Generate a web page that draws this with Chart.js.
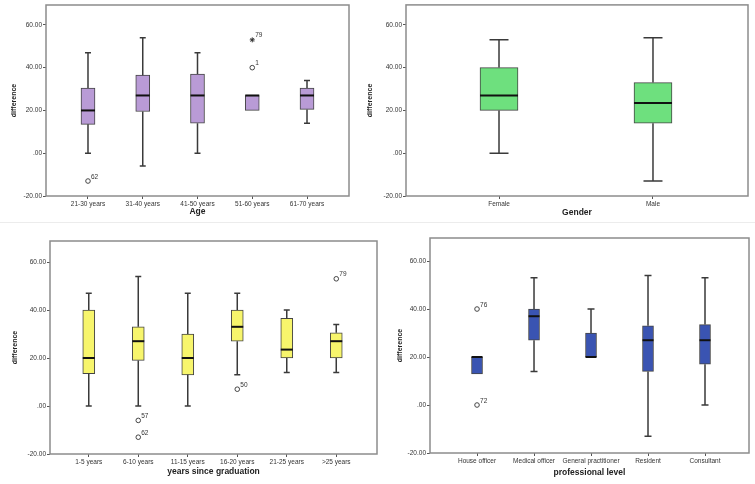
<!DOCTYPE html>
<html>
<head>
<meta charset="utf-8">
<script src="https://cdn.jsdelivr.net/npm/chart.js@4.4.1/dist/chart.umd.min.js"></script>
<style>
  body { margin: 0; background: #fff; width: 755px; height: 484px; position: relative; overflow: hidden; }
  .panel { position: absolute; }
  .sep { position: absolute; left: 0; top: 222px; width: 755px; height: 1px; background: #ececec; }
</style>
</head>
<body>
<div class="sep"></div>
<div class="panel" style="left:0;top:0;width:360px;height:224px"><canvas id="ageChart"></canvas></div>
<div class="panel" style="left:360px;top:0;width:395px;height:224px"><canvas id="genderChart"></canvas></div>
<div class="panel" style="left:0;top:226px;width:382px;height:258px"><canvas id="gradChart"></canvas></div>
<div class="panel" style="left:382px;top:226px;width:373px;height:258px"><canvas id="levelChart"></canvas></div>
<script>
const FONT = "'Liberation Sans', Arial, sans-serif";
const Y_TICKS = [-20, 0, 20, 40, 60];

// Age
const AGE_LABELS = ["21-30 years", "31-40 years", "41-50 years", "51-60 years", "61-70 years"];
const AGE_MIN = [0, -6, 0, null, 14];
const AGE_Q1 = [13.5, 19.5, 14, 20, 20.5];
const AGE_MEDIAN = [20, 27, 27, 27, 27];
const AGE_Q3 = [30.5, 36.5, 37, 27, 30.5];
const AGE_MAX = [47, 54, 47, null, 34];
const AGE_OUTLIERS = [{ x: 1, y: -13, id: "62" }, { x: 4, y: 40, id: "1" }];
const AGE_EXTREMES = [{ x: 4, y: 53, id: "79" }];

// Gender
const GENDER_LABELS = ["Female", "Male"];
const GENDER_MIN = [0, -13];
const GENDER_Q1 = [20, 14];
const GENDER_MEDIAN = [27, 23.5];
const GENDER_Q3 = [40, 33];
const GENDER_MAX = [53, 54];

// years since graduation
const GRAD_LABELS = ["1-5 years", "6-10 years", "11-15 years", "16-20 years", "21-25 years", ">25 years"];
const GRAD_MIN = [0, 0, 0, 13, 14, 14];
const GRAD_Q1 = [13.5, 19, 13, 27, 20, 20];
const GRAD_MEDIAN = [20, 27, 20, 33, 23.5, 27];
const GRAD_Q3 = [40, 33, 30, 40, 36.5, 30.5];
const GRAD_MAX = [47, 54, 47, 47, 40, 34];
const GRAD_OUTLIERS = [{ x: 2, y: -6, id: "57" }, { x: 2, y: -13, id: "62" }, { x: 4, y: 7, id: "50" }, { x: 6, y: 53, id: "79" }];

// professional level
const LEVEL_LABELS = ["House officer", "Medical officer", "General practitioner", "Resident", "Consultant"];
const LEVEL_MIN = [null, 14, null, -13, 0];
const LEVEL_Q1 = [13, 27, 20, 14, 17];
const LEVEL_MEDIAN = [20, 37, 20, 27, 27];
const LEVEL_Q3 = [20, 40, 30, 33, 33.5];
const LEVEL_MAX = [null, 53, 40, 54, 53];
const LEVEL_OUTLIERS = [{ x: 1, y: 40, id: "76" }, { x: 1, y: 0, id: "72" }];

function fmtTick(v) {
  return v === 0 ? ".00" : v.toFixed(2);
}

const boxPlugin = {
  id: "boxParts",
  afterDatasetsDraw(chart, args, opts) {
    const { ctx, chartArea } = chart;
    const xs = chart.scales.x;
    const ys = chart.scales.y;
    ctx.save();
    opts.median.forEach((m, i) => {
      const px = xs.getPixelForValue(i + 1);
      const half = opts.capWidth / 2;
      ctx.strokeStyle = "#3a3a3a";
      ctx.lineWidth = 1.5;
      const whisker = (from, to) => {
        if (to == null) return;
        const y0 = ys.getPixelForValue(from);
        const y1 = ys.getPixelForValue(to);
        ctx.beginPath();
        ctx.moveTo(px, y0);
        ctx.lineTo(px, y1);
        ctx.moveTo(px - half, y1);
        ctx.lineTo(px + half, y1);
        ctx.stroke();
      };
      whisker(opts.q3[i], opts.max[i]);
      whisker(opts.q1[i], opts.min[i]);
      const my = ys.getPixelForValue(m);
      ctx.strokeStyle = "#111";
      ctx.lineWidth = 2;
      ctx.beginPath();
      ctx.moveTo(px - opts.boxWidth / 2, my);
      ctx.lineTo(px + opts.boxWidth / 2, my);
      ctx.stroke();
    });
    // outlier case numbers
    ctx.fillStyle = "#333";
    ctx.font = "6.5px " + FONT;
    ctx.textBaseline = "bottom";
    chart.data.datasets.forEach((ds, di) => {
      if (ds.type !== "scatter") return;
      chart.getDatasetMeta(di).data.forEach((pt, j) => {
        ctx.fillText(ds.data[j].id, pt.x + 3, pt.y - 1);
      });
    });
    ctx.strokeStyle = "#8c8c8c";
    ctx.lineWidth = 1.5;
    ctx.strokeRect(chartArea.left, chartArea.top, chartArea.width, chartArea.height);
    ctx.restore();
  },
};

function makeBoxChart(id, s) {
  const datasets = [
    {
      type: "bar",
      data: s.labels.map((_, i) => ({ x: i + 1, y: [s.q1[i], s.q3[i]] })),
      backgroundColor: s.color,
      borderColor: "#444",
      borderWidth: 1,
      borderSkipped: false,
      barThickness: s.boxWidth,
    },
    {
      type: "scatter",
      data: s.outliers || [],
      pointStyle: "circle",
      radius: 2.3,
      borderWidth: 1,
      borderColor: "#444",
      backgroundColor: "rgba(255,255,255,0)",
    },
    {
      type: "scatter",
      data: s.extremes || [],
      pointStyle: "star",
      radius: 2.5,
      borderWidth: 1,
      borderColor: "#333",
    },
  ];
  new Chart(document.getElementById(id), {
    type: "bar",
    data: { datasets },
    plugins: [boxPlugin],
    options: {
      responsive: true,
      maintainAspectRatio: false,
      animation: false,
      layout: { padding: { top: s.padTop, right: s.padRight, left: 0, bottom: 0 } },
      plugins: {
        legend: { display: false },
        tooltip: { enabled: false },
        boxParts: {
          min: s.min, q1: s.q1, median: s.median, q3: s.q3, max: s.max,
          boxWidth: s.boxWidth, capWidth: s.capWidth,
        },
      },
      scales: {
        x: {
          type: "linear",
          offset: false,
          min: s.xMin,
          max: s.xMax,
          afterFit: (sc) => { sc.height = s.xHeight; },
          afterBuildTicks: (sc) => { sc.ticks = s.labels.map((_, i) => ({ value: i + 1 })); },
          grid: { offset: false, drawOnChartArea: false, tickLength: 3, color: "#555" },
          border: { display: false },
          ticks: {
            autoSkip: false, maxRotation: 0, padding: 1, color: "#333",
            font: { size: 6.5, family: FONT },
            callback: (v) => s.labels[v - 1],
          },
          title: {
            display: true, text: s.xTitle, color: "#222",
            font: { size: 8.5, weight: "bold", family: FONT },
            padding: { top: 0, bottom: s.xTitlePad },
          },
        },
        y: {
          min: -20,
          max: s.yMax,
          afterFit: (sc) => { sc.width = s.yWidth; },
          afterBuildTicks: (sc) => { sc.ticks = Y_TICKS.map((v) => ({ value: v })); },
          grid: { drawOnChartArea: false, tickLength: 3, color: "#555" },
          border: { display: false },
          ticks: { padding: 1, color: "#333", font: { size: 6.5, family: FONT }, callback: (v) => fmtTick(v) },
          title: {
            display: true, text: "difference", color: "#222",
            font: { size: 7, weight: "bold", family: FONT },
            padding: { top: s.yTitlePad, bottom: 0 },
          },
        },
      },
    },
  });
}

makeBoxChart("ageChart", {
  labels: AGE_LABELS, min: AGE_MIN, q1: AGE_Q1, median: AGE_MEDIAN, q3: AGE_Q3, max: AGE_MAX,
  outliers: AGE_OUTLIERS, extremes: AGE_EXTREMES,
  color: "#b99bd6", boxWidth: 14, capWidth: 6,
  xMin: 0.233, xMax: 5.767, yMax: 69.3,
  padTop: 4, padRight: 11, yWidth: 46, xHeight: 28,
  xTitle: "Age", xTitlePad: 7, yTitlePad: 10,
});

makeBoxChart("genderChart", {
  labels: GENDER_LABELS, min: GENDER_MIN, q1: GENDER_Q1, median: GENDER_MEDIAN, q3: GENDER_Q3, max: GENDER_MAX,
  color: "#6ee07e", boxWidth: 38, capWidth: 19,
  xMin: 0.396, xMax: 2.617, yMax: 69.3,
  padTop: 4, padRight: 7, yWidth: 46, xHeight: 28,
  xTitle: "Gender", xTitlePad: 6, yTitlePad: 6,
});

makeBoxChart("gradChart", {
  labels: GRAD_LABELS, min: GRAD_MIN, q1: GRAD_Q1, median: GRAD_MEDIAN, q3: GRAD_Q3, max: GRAD_MAX,
  outliers: GRAD_OUTLIERS,
  color: "#f7f56c", boxWidth: 12, capWidth: 6,
  xMin: 0.217, xMax: 6.823, yMax: 68.75,
  padTop: 15, padRight: 3, yWidth: 50, xHeight: 30,
  xTitle: "years since graduation", xTitlePad: 7, yTitlePad: 11,
});

makeBoxChart("levelChart", {
  labels: LEVEL_LABELS, min: LEVEL_MIN, q1: LEVEL_Q1, median: LEVEL_MEDIAN, q3: LEVEL_Q3, max: LEVEL_MAX,
  outliers: LEVEL_OUTLIERS,
  color: "#3a54b2", boxWidth: 11, capWidth: 7,
  xMin: 0.175, xMax: 5.772, yMax: 69.6,
  padTop: 12, padRight: 6, yWidth: 48, xHeight: 31,
  xTitle: "professional level", xTitlePad: 6, yTitlePad: 14,
});
</script>
</body>
</html>
